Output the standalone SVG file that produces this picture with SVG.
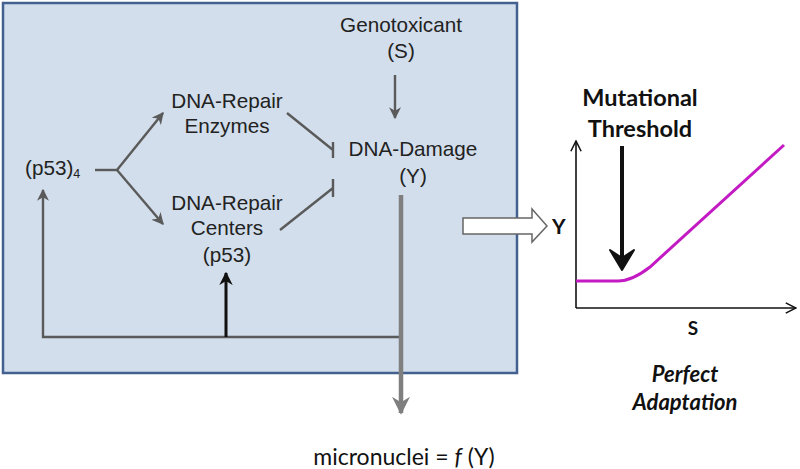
<svg xmlns="http://www.w3.org/2000/svg" width="800" height="469" viewBox="0 0 800 469">
<style>
.t{font-family:"Liberation Sans",Arial,sans-serif;font-size:20.7px;fill:#222;text-anchor:middle}
.c{font-family:Lato,"Open Sans",sans-serif;fill:#111}
.b{font-weight:bold}
.g{stroke:#5a5a5a;stroke-width:2.4;fill:none}
</style>
<defs>
<marker id="ag" viewBox="0 0 10 10" refX="9" refY="5" markerWidth="5" markerHeight="5" orient="auto" markerUnits="strokeWidth">
<path d="M0,0 L10,5 L0,10 L3,5 Z" fill="#5a5a5a"/>
</marker>
<marker id="ak" viewBox="0 0 10 10" refX="9" refY="5" markerWidth="4.5" markerHeight="4.5" orient="auto" markerUnits="strokeWidth">
<path d="M0,0 L10,5 L0,10 L3,5 Z" fill="#111"/>
</marker>
<marker id="ao" viewBox="0 0 10 10" refX="9" refY="5" markerWidth="4" markerHeight="4" orient="auto" markerUnits="strokeWidth">
<path d="M0,0 L10,5 L0,10 L3,5 Z" fill="#7f7f7f"/>
</marker>
<marker id="ax" viewBox="0 0 10 10" refX="9" refY="5" markerWidth="8" markerHeight="8" orient="auto" markerUnits="strokeWidth">
<path d="M1,1 L9,5 L1,9" fill="none" stroke="#111" stroke-width="1.2"/>
</marker>
</defs>
<rect id="panel" x="3" y="3" width="514" height="370" fill="#d2deeb" stroke="#42618f" stroke-width="2.5"/>
<g id="genotoxicant"><text class="t" x="401" y="32">Genotoxicant</text><text class="t" x="401" y="58">(S)</text></g>
<g id="enzymes"><text class="t" x="227" y="108">DNA-Repair</text><text class="t" x="227" y="133">Enzymes</text></g>
<g id="damage"><text class="t" x="413" y="156">DNA-Damage</text><text class="t" x="413" y="183">(Y)</text></g>
<g id="p53"><text class="t" x="25" y="175" style="text-anchor:start">(p53)<tspan font-size="12.5" dy="3">4</tspan></text></g>
<g id="centers"><text class="t" x="227" y="210">DNA-Repair</text><text class="t" x="227" y="235">Centers</text><text class="t" x="227" y="262">(p53)</text></g>
<g id="connectors">
<path class="g" d="M95,170 H117"/>
<path class="g" d="M117,170 L163,113" marker-end="url(#ag)"/>
<path class="g" d="M117,170 L163,224" marker-end="url(#ag)"/>
<path class="g" d="M395,75 V118" marker-end="url(#ag)"/>
<path class="g" d="M287,113 L333,150 M333,142 V158"/>
<path class="g" d="M280,230 L333,188 M333,179 V197"/>
<path class="g" d="M401,337 H43 V190" marker-end="url(#ag)"/>
<path d="M226,337 V273" stroke="#111" stroke-width="3" fill="none" marker-end="url(#ak)"/>
<path d="M401,195 V413" stroke="#7f7f7f" stroke-width="4.5" fill="none" marker-end="url(#ao)"/>
<polygon points="463,218 532,218 532,209 547,226 532,242 532,234 463,234" fill="#fff" stroke="#666" stroke-width="1.5"/>
</g>
<g id="micronuclei"><text class="c" x="404" y="465" font-size="23" text-anchor="middle">micronuclei = <tspan font-style="italic">f</tspan> (Y)</text></g>
<g id="plot">
<path d="M576,308 V141" stroke="#111" stroke-width="1.6" fill="none" marker-end="url(#ax)"/>
<path d="M576,308 H796" stroke="#111" stroke-width="1.6" fill="none" marker-end="url(#ax)"/>
<path d="M576,281 L618,281 Q632,281 650,267 L784,145" stroke="#c41ac4" stroke-width="3" fill="none"/>
<path d="M622,146 V258" stroke="#111" stroke-width="4" fill="none"/>
<path d="M610,250 L622,270 L634,250 L622,258 Z" fill="#111" stroke="#111" stroke-width="2" stroke-linejoin="round"/>
<text class="c b" x="552" y="234" font-size="21">Y</text>
<text class="c b" x="640" y="106" font-size="23.5" text-anchor="middle">Mutational</text>
<text class="c b" x="640" y="137" font-size="23.5" text-anchor="middle">Threshold</text>
<text class="c b" x="693" y="335" font-size="19" text-anchor="middle">S</text>
<text class="c b" x="685" y="382" font-size="22" font-style="italic" text-anchor="middle">Perfect</text>
<text class="c b" x="685" y="410" font-size="22" font-style="italic" text-anchor="middle">Adaptation</text>
</g>
</svg>
